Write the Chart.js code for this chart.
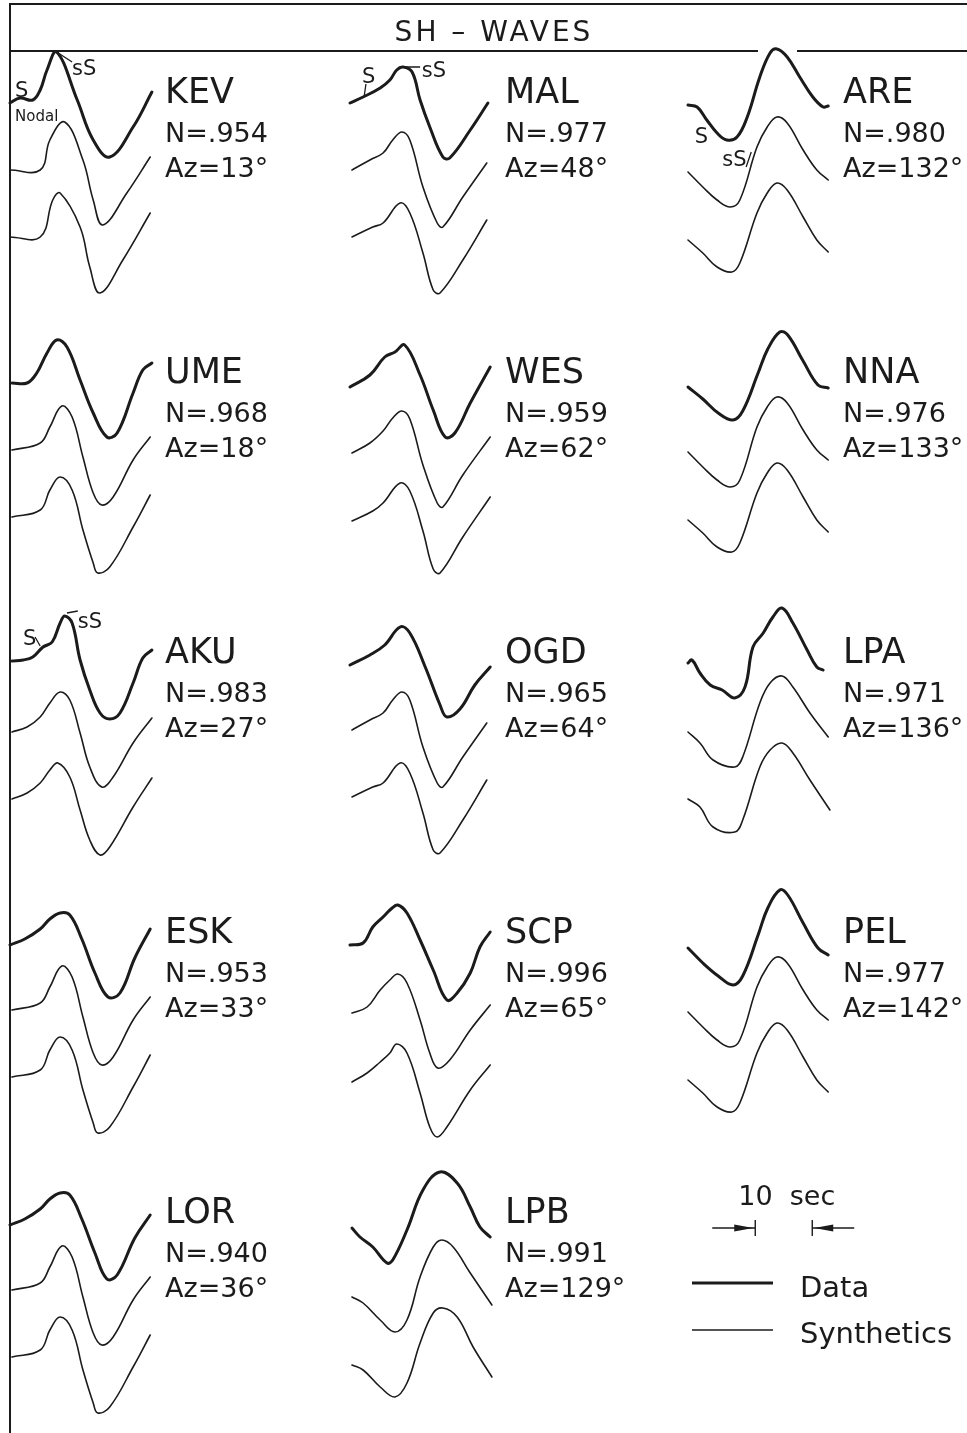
<!DOCTYPE html>
<html>
<head>
<meta charset="utf-8">
<title>SH-WAVES</title>
<script src="https://cdn.jsdelivr.net/npm/chart.js@4.4.0/dist/chart.umd.min.js"></script>
<style>
  html, body { margin: 0; padding: 0; background: #fff; }
  canvas { display: block; }
</style>
</head>
<body>
<canvas id="waveCtx" width="967" height="1433"></canvas>
<script>
// stations in reading order (3 per row), fit N and azimuth
const stations = ['KEV', 'MAL', 'ARE', 'UME', 'WES', 'NNA', 'AKU', 'OGD', 'LPA', 'ESK', 'SCP', 'PEL', 'LOR', 'LPB'];
const fitN = ['.954', '.977', '.980', '.968', '.959', '.976', '.983', '.965', '.971', '.953', '.996', '.977', '.940', '.991'];
const azimuth = [13, 48, 132, 18, 62, 133, 27, 64, 136, 33, 65, 142, 36, 129];

// waveforms: [time (s), relative amplitude]; data trace, then two synthetics
const kevData = [[0,0],[1.75,0.05],[4.0,0.03],[5.3,0.13],[6.5,0.33],[8.2,0.51],[11.8,0.03],[14.6,-0.37],[17.5,-0.54],[21.6,-0.24],[24.9,0.11]];
const kevSyn1 = [[0,0.01],[5.3,0.01],[7.0,0.31],[9.6,0.49],[12.8,0.11],[14.6,-0.29],[16.3,-0.54],[20.5,-0.22],[24.6,0.14]];
const kevSyn2 = [[0,0.02],[5.3,0.02],[7.5,0.39],[8.8,0.46],[12.3,0.12],[14.0,-0.28],[15.8,-0.54],[19.8,-0.21],[24.6,0.26]];

const malData = [[0,0],[2.3,0.06],[5.3,0.15],[7.0,0.23],[8.2,0.33],[9.3,0.36],[10.9,0.31],[12.3,0.03],[14.0,-0.24],[16.3,-0.54],[17.5,-0.55],[21.1,-0.27],[24.2,0]];
const malSyn1 = [[0.35,0.01],[3.5,0.11],[5.8,0.18],[7.5,0.31],[9.1,0.39],[10.5,0.31],[12.8,-0.16],[15.3,-0.52],[16.3,-0.56],[19.8,-0.26],[24.0,0.08]];
const malSyn2 = [[0.35,0.02],[4.0,0.12],[5.8,0.16],[8.8,0.36],[10.5,0.26],[12.8,-0.14],[14.6,-0.51],[15.8,-0.54],[19.8,-0.21],[24.0,0.19]];

const areData = [[0,-0.02],[1.6,-0.04],[3.3,-0.17],[5.1,-0.30],[6.8,-0.37],[8.6,-0.34],[10.4,-0.14],[12.6,0.26],[14.4,0.50],[15.6,0.54],[17.4,0.46],[19.6,0.26],[21.9,0.06],[23.7,-0.04],[24.6,-0.03]];
const areSyn1 = [[0,-0.01],[2.6,-0.16],[5.1,-0.29],[7.4,-0.36],[9.1,-0.29],[12.1,0.24],[13.9,0.44],[15.6,0.54],[17.4,0.48],[20.2,0.21],[22.6,0.01],[24.6,-0.09]];
const areSyn2 = [[0,-0.01],[2.6,-0.14],[5.1,-0.28],[7.7,-0.33],[9.1,-0.24],[12.1,0.26],[13.9,0.46],[15.6,0.56],[17.4,0.49],[20.2,0.22],[22.6,-0.01],[24.6,-0.13]];

const umeData = [[0.35,0],[3.0,0],[4.7,0.10],[6.5,0.30],[8.2,0.43],[10.0,0.36],[12.3,0.03],[14.6,-0.30],[17.0,-0.54],[18.8,-0.50],[21.6,-0.10],[23.3,0.13],[24.9,0.20]];
const umeSyn1 = [[0.35,0.01],[5.3,0.08],[7.0,0.24],[9.1,0.45],[10.9,0.34],[12.8,-0.06],[14.6,-0.42],[16.1,-0.54],[18.1,-0.46],[21.6,-0.09],[24.6,0.14]];
const umeSyn2 = [[0.35,0.02],[5.3,0.09],[7.0,0.29],[8.8,0.42],[10.9,0.29],[12.8,-0.11],[14.6,-0.44],[15.4,-0.54],[17.5,-0.48],[21.6,-0.08],[24.6,0.24]];

const wesData = [[0,-0.04],[3.5,0.08],[6.1,0.26],[7.9,0.31],[9.6,0.38],[12.3,0.08],[14.6,-0.27],[16.7,-0.54],[18.4,-0.50],[21.1,-0.20],[24.6,0.16]];
const wesSyn1 = [[0.35,-0.02],[3.5,0.08],[5.8,0.20],[7.5,0.33],[9.1,0.40],[10.5,0.32],[12.8,-0.14],[15.3,-0.52],[16.3,-0.56],[19.8,-0.24],[24.6,0.14]];
const wesSyn2 = [[0.35,-0.02],[4.0,0.08],[5.8,0.16],[8.8,0.36],[10.5,0.28],[12.8,-0.12],[14.6,-0.50],[15.8,-0.54],[19.8,-0.18],[24.6,0.22]];

const nnaData = [[0,-0.04],[2.6,-0.16],[5.3,-0.30],[7.9,-0.37],[9.6,-0.28],[12.3,0.10],[14.0,0.34],[16.1,0.51],[17.5,0.48],[20.2,0.22],[22.8,-0.02],[24.6,-0.05]];
const nnaSyn1 = [[0,-0.01],[2.6,-0.16],[5.1,-0.29],[7.4,-0.36],[9.1,-0.29],[12.1,0.24],[13.9,0.44],[15.6,0.54],[17.4,0.48],[20.2,0.21],[22.6,0.01],[24.6,-0.09]];
const nnaSyn2 = [[0,-0.01],[2.6,-0.14],[5.1,-0.28],[7.7,-0.33],[9.1,-0.24],[12.1,0.26],[13.9,0.46],[15.6,0.56],[17.4,0.49],[20.2,0.22],[22.6,-0.01],[24.6,-0.13]];

const akuData = [[0.35,0.02],[2.3,0.03],[4.0,0.06],[5.8,0.16],[7.4,0.21],[8.8,0.40],[9.6,0.47],[10.9,0.40],[12.3,0.03],[14.0,-0.27],[15.8,-0.50],[17.5,-0.56],[19.3,-0.50],[21.6,-0.20],[23.3,0.05],[24.9,0.13]];
const akuSyn1 = [[0.35,-0.01],[3.0,0.04],[5.3,0.14],[7.0,0.28],[8.8,0.39],[10.5,0.31],[12.3,-0.02],[14.0,-0.36],[16.1,-0.56],[18.1,-0.46],[21.6,-0.12],[24.9,0.13]];
const akuSyn2 = [[0.35,0],[3.0,0.06],[5.3,0.16],[7.0,0.29],[8.4,0.36],[10.5,0.22],[12.3,-0.11],[14.0,-0.41],[15.8,-0.56],[17.5,-0.48],[21.6,-0.08],[24.9,0.21]];

const ogdData = [[0,-0.02],[3.5,0.08],[6.1,0.18],[8.8,0.36],[10.5,0.30],[13.2,-0.04],[15.8,-0.42],[17.0,-0.54],[19.3,-0.46],[21.9,-0.22],[24.6,-0.04]];
const ogdSyn1 = [[0.35,0.01],[3.5,0.11],[5.8,0.18],[7.5,0.31],[9.1,0.39],[10.5,0.31],[12.8,-0.16],[15.3,-0.52],[16.3,-0.56],[19.8,-0.26],[24.0,0.08]];
const ogdSyn2 = [[0.35,0.02],[4.0,0.12],[5.8,0.16],[8.8,0.36],[10.5,0.26],[12.8,-0.14],[14.6,-0.51],[15.8,-0.54],[19.8,-0.21],[24.0,0.19]];

const lpaData = [[0,0],[0.7,0.03],[2.1,-0.10],[3.9,-0.22],[6.0,-0.27],[8.2,-0.35],[10.0,-0.24],[11.4,0.16],[13.2,0.30],[14.9,0.46],[16.5,0.55],[18.4,0.40],[20.9,0.13],[22.6,-0.04],[23.7,-0.07]];
const lpaSyn1 = [[0,-0.01],[2.1,-0.12],[4.4,-0.29],[8.2,-0.36],[9.6,-0.26],[12.6,0.28],[14.4,0.48],[16.5,0.55],[18.4,0.44],[21.4,0.18],[24.6,-0.06]];
const lpaSyn2 = [[0,0],[2.1,-0.08],[4.4,-0.28],[8.2,-0.33],[9.6,-0.21],[12.6,0.32],[14.4,0.49],[16.5,0.56],[18.4,0.46],[21.4,0.19],[24.9,-0.11]];

const eskData = [[0,-0.02],[2.6,0.04],[5.3,0.14],[7.0,0.24],[8.8,0.30],[10.5,0.28],[12.6,0.04],[14.9,-0.30],[17.2,-0.54],[19.3,-0.50],[21.9,-0.15],[24.6,0.14]];
const eskSyn1 = [[0.35,0.01],[5.3,0.08],[7.0,0.24],[9.1,0.45],[10.9,0.34],[12.8,-0.06],[14.6,-0.42],[16.1,-0.54],[18.1,-0.46],[21.6,-0.09],[24.6,0.14]];
const eskSyn2 = [[0.35,0.02],[5.3,0.09],[7.0,0.29],[8.8,0.42],[10.9,0.29],[12.8,-0.11],[14.6,-0.44],[15.4,-0.54],[17.5,-0.48],[21.6,-0.08],[24.6,0.24]];

const scpData = [[0,-0.02],[2.3,0],[4.0,0.16],[5.8,0.26],[7.4,0.35],[8.4,0.38],[10.0,0.30],[12.3,0.03],[14.6,-0.27],[17.0,-0.57],[18.8,-0.50],[21.1,-0.30],[22.8,-0.04],[24.6,0.11]];
const scpSyn1 = [[0.35,-0.02],[3.0,0.04],[5.3,0.21],[7.0,0.31],[8.4,0.37],[10.0,0.28],[12.3,-0.09],[14.0,-0.42],[15.4,-0.57],[17.5,-0.49],[21.1,-0.19],[24.6,0.06]];
const scpSyn2 = [[0.35,-0.03],[3.0,0.06],[5.3,0.17],[7.0,0.26],[8.2,0.35],[10.0,0.26],[12.3,-0.14],[14.0,-0.48],[15.3,-0.58],[17.0,-0.48],[21.1,-0.11],[24.6,0.14]];

const pelData = [[0,-0.05],[2.6,-0.20],[5.3,-0.33],[7.9,-0.42],[9.6,-0.33],[12.3,0.08],[14.0,0.35],[16.1,0.53],[17.5,0.48],[20.2,0.20],[22.8,-0.05],[24.6,-0.12]];
const pelSyn1 = [[0,-0.01],[2.6,-0.16],[5.1,-0.29],[7.4,-0.36],[9.1,-0.29],[12.1,0.24],[13.9,0.44],[15.6,0.54],[17.4,0.48],[20.2,0.21],[22.6,0.01],[24.6,-0.09]];
const pelSyn2 = [[0,-0.01],[2.6,-0.14],[5.1,-0.28],[7.7,-0.33],[9.1,-0.24],[12.1,0.26],[13.9,0.46],[15.6,0.56],[17.4,0.49],[20.2,0.22],[22.6,-0.01],[24.6,-0.13]];

const lorData = [[0,-0.02],[2.6,0.04],[5.3,0.14],[7.0,0.24],[8.8,0.30],[10.5,0.28],[12.6,0.04],[14.9,-0.30],[17.0,-0.56],[18.8,-0.52],[21.9,-0.15],[24.6,0.08]];
const lorSyn1 = [[0.35,0.01],[5.3,0.08],[7.0,0.24],[9.1,0.45],[10.9,0.34],[12.8,-0.06],[14.6,-0.42],[16.1,-0.54],[18.1,-0.46],[21.6,-0.09],[24.6,0.14]];
const lorSyn2 = [[0.35,0.02],[5.3,0.09],[7.0,0.29],[8.8,0.42],[10.9,0.29],[12.8,-0.11],[14.6,-0.44],[15.4,-0.54],[17.5,-0.48],[21.6,-0.08],[24.6,0.24]];

const lpbData = [[0.35,-0.05],[1.75,-0.14],[4.0,-0.24],[6.5,-0.40],[7.5,-0.37],[10.0,-0.07],[12.8,0.33],[15.8,0.51],[18.8,0.40],[21.1,0.16],[22.8,-0.04],[24.6,-0.14]];
const lpbSyn1 = [[0.35,-0.06],[2.3,-0.12],[5.3,-0.29],[7.9,-0.41],[10.0,-0.29],[12.3,0.14],[14.6,0.44],[16.1,0.51],[18.1,0.44],[21.1,0.18],[24.9,-0.14]];
const lpbSyn2 = [[0.35,-0.06],[2.3,-0.11],[5.3,-0.28],[7.9,-0.38],[10.0,-0.24],[12.3,0.16],[14.6,0.46],[16.3,0.51],[18.8,0.42],[21.6,0.12],[24.9,-0.18]];

// phase picks written on some data traces: [station, label, time (s), amplitude]
const phaseLabels = [
    ['KEV', 'S', 0.9, 0.06], ['KEV', 'sS', 10.9, 0.28], ['KEV', 'Nodal', 0.9, -0.18],
    ['MAL', 'S', 2.1, 0.20], ['MAL', 'sS', 12.6, 0.26],
    ['ARE', 'S', 1.2, -0.40], ['ARE', 'sS', 6.0, -0.63],
    ['AKU', 'S', 2.3, 0.18], ['AKU', 'sS', 11.9, 0.35]
];
// little pointer strokes next to those labels: [station, t1, a1, t2, a2]
const phaseTicks = [
    ['KEV', 8.2, 0.51, 10.9, 0.41],
    ['MAL', 2.8, 0.19, 2.5, 0.07], ['MAL', 9.3, 0.36, 12.3, 0.36],
    ['ARE', 10.2, -0.64, 11.1, -0.49],
    ['AKU', 4.4, 0.26, 5.3, 0.17], ['AKU', 10.0, 0.50, 11.9, 0.52]
];

const waveforms = {
    KEV: [kevData, kevSyn1, kevSyn2], MAL: [malData, malSyn1, malSyn2], ARE: [areData, areSyn1, areSyn2],
    UME: [umeData, umeSyn1, umeSyn2], WES: [wesData, wesSyn1, wesSyn2], NNA: [nnaData, nnaSyn1, nnaSyn2],
    AKU: [akuData, akuSyn1, akuSyn2], OGD: [ogdData, ogdSyn1, ogdSyn2], LPA: [lpaData, lpaSyn1, lpaSyn2],
    ESK: [eskData, eskSyn1, eskSyn2], SCP: [scpData, scpSyn1, scpSyn2], PEL: [pelData, pelSyn1, pelSyn2],
    LOR: [lorData, lorSyn1, lorSyn2], LPB: [lpbData, lpbSyn1, lpbSyn2]
};

// page layout in chart units (seconds across, amplitude down the page)
const columnStart = [1.75, 61.4, 120.7];
const rowOrigin = [-1.03, -3.83, -6.63, -9.43, -12.23];
const traceGap = 0.68;
const labelOffset = 27.2;
const scaleBarStart = 132.5;
const ink = '#1b1b1b';
const font = '"DejaVu Sans", sans-serif';

function stationOrigin(name) {
    const i = stations.indexOf(name);
    return { t: columnStart[i % 3], a: rowOrigin[Math.floor(i / 3)] };
}

const datasets = [];
stations.forEach((name, i) => {
    const o = stationOrigin(name);
    waveforms[name].forEach((trace, k) => {
        datasets.push({
            label: name + (k === 0 ? ' data' : ' synthetic ' + k),
            data: trace.map(p => ({ x: o.t + p[0], y: o.a - k * traceGap + p[1] })),
            borderColor: ink,
            borderWidth: k === 0 ? 3 : 1.6,
            borderCapStyle: 'round',
            borderJoinStyle: 'round',
            tension: 0.4,
            pointRadius: 0,
            fill: false
        });
    });
});

/// draws the frame, title, station text, phase picks and the legend box
const figureDecor = {
    id: 'figureDecor',
    afterDraw(chart) {
        const ctx = chart.ctx;
        const xs = chart.scales.x, ys = chart.scales.y;
        const px = t => xs.getPixelForValue(t);
        const py = a => ys.getPixelForValue(a);
        ctx.save();
        ctx.strokeStyle = ink;
        ctx.fillStyle = ink;

        // frame
        ctx.lineWidth = 2;
        ctx.beginPath();
        ctx.moveTo(10, 1433); ctx.lineTo(10, 4); ctx.lineTo(967, 4);
        ctx.moveTo(10, 51); ctx.lineTo(758, 51);
        ctx.moveTo(797, 51); ctx.lineTo(967, 51);
        ctx.stroke();

        ctx.font = '28px ' + font;
        ctx.textAlign = 'center';
        ctx.textBaseline = 'alphabetic';
        ctx.letterSpacing = '3px';
        ctx.fillText('SH – WAVES', 494, 41);
        ctx.letterSpacing = '0px';

        // station captions
        ctx.textAlign = 'left';
        stations.forEach((name, i) => {
            const o = stationOrigin(name);
            const x = px(o.t + labelOffset);
            ctx.font = '35px ' + font;
            ctx.fillText(name, x, py(o.a));
            ctx.font = '27px ' + font;
            ctx.fillText('N=' + fitN[i], x, py(o.a - 0.39));
            ctx.fillText('Az=' + azimuth[i] + '°', x, py(o.a - 0.74));
        });

        // phase picks
        phaseLabels.forEach(([name, txt, t, a]) => {
            const o = stationOrigin(name);
            ctx.font = (txt === 'Nodal' ? '15px ' : '21px ') + font;
            ctx.fillText(txt, px(o.t + t), py(o.a + a));
        });
        ctx.lineWidth = 1.3;
        ctx.beginPath();
        phaseTicks.forEach(([name, t1, a1, t2, a2]) => {
            const o = stationOrigin(name);
            ctx.moveTo(px(o.t + t1), py(o.a + a1));
            ctx.lineTo(px(o.t + t2), py(o.a + a2));
        });
        ctx.stroke();

        // 10 sec scale bar
        const x0 = px(scaleBarStart), x1 = px(scaleBarStart + 10);
        const yb = 1228;
        ctx.font = '27px ' + font;
        ctx.fillText('10  sec', x0 - 17, 1205);
        ctx.lineWidth = 1.4;
        ctx.beginPath();
        ctx.moveTo(x0 - 43, yb); ctx.lineTo(x0, yb);
        ctx.moveTo(x0, yb - 8); ctx.lineTo(x0, yb + 8);
        ctx.moveTo(x1, yb - 8); ctx.lineTo(x1, yb + 8);
        ctx.moveTo(x1, yb); ctx.lineTo(x1 + 42, yb);
        ctx.stroke();
        ctx.beginPath();
        ctx.moveTo(x0 - 21, yb - 3.5); ctx.lineTo(x0 - 2, yb); ctx.lineTo(x0 - 21, yb + 3.5); ctx.closePath();
        ctx.moveTo(x1 + 21, yb - 3.5); ctx.lineTo(x1 + 2, yb); ctx.lineTo(x1 + 21, yb + 3.5); ctx.closePath();
        ctx.fill();

        // line legend
        ctx.lineWidth = 3;
        ctx.beginPath(); ctx.moveTo(692, 1283); ctx.lineTo(773, 1283); ctx.stroke();
        ctx.lineWidth = 1.6;
        ctx.beginPath(); ctx.moveTo(692, 1330); ctx.lineTo(773, 1330); ctx.stroke();
        ctx.font = '29px ' + font;
        ctx.fillText('Data', 800, 1297);
        ctx.fillText('Synthetics', 800, 1343);
        ctx.restore();
    }
};

var waveChart = new Chart(document.getElementById('waveCtx'), {
    type: 'line',
    data: { datasets: datasets },
    options: {
        responsive: false,
        animation: false,
        layout: { padding: 0 },
        plugins: { legend: { display: false }, tooltip: { enabled: false }, title: { display: false } },
        scales: {
            x: { type: 'linear', min: 0, max: 967 / 5.7, display: false },
            y: { type: 'linear', min: -14.33, max: 0, display: false }
        }
    },
    plugins: [figureDecor]
});
</script>
</body>
</html>
